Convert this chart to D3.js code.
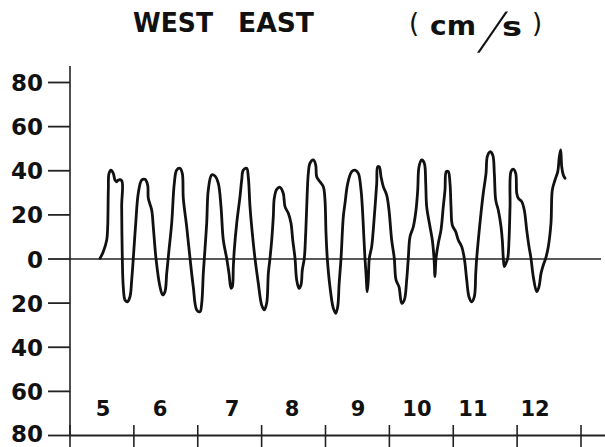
<!DOCTYPE html>
<html>
<head>
<meta charset="utf-8">
<script src="https://cdn.jsdelivr.net/npm/d3@7"></script>
<style>
  html, body { margin: 0; padding: 0; background: #fff; }
  svg { display: block; }
</style>
</head>
<body>
<svg id="chart" width="605" height="447"></svg>
<script>
// ---- data (time in days, west-east velocity in cm/s) ----
const timeDays = [
  5.470,5.521,5.575,5.590,5.600,5.611,5.642,5.678,5.704,5.731,5.756,5.809,5.809,5.819,5.834,5.861,5.897,5.939,5.966,5.991,
  6.029,6.069,6.123,6.174,6.216,6.226,6.279,6.304,6.346,6.409,6.451,6.487,6.514,6.550,6.592,6.633,6.670,6.722,6.758,6.774,
  6.827,6.879,6.930,6.984,7.035,7.062,7.087,7.103,7.140,7.165,7.218,7.270,7.322,7.364,7.400,7.453,7.489,7.521,7.541,7.557,
  7.572,7.610,7.661,7.688,7.713,7.766,7.791,7.818,7.854,7.896,7.948,8.001,8.042,8.079,8.105,8.131,8.158,8.183,8.198,8.236,
  8.288,8.339,8.366,8.418,8.460,8.487,8.523,8.549,8.585,8.616,8.637,8.668,8.690,8.706,8.731,8.757,8.809,8.847,8.862,8.914,
  8.966,8.992,9.008,9.028,9.070,9.122,9.160,9.191,9.214,9.243,9.279,9.305,9.348,9.410,9.462,9.514,9.556,9.576,9.603,9.618,
  9.634,9.654,9.670,9.686,9.723,9.764,9.802,9.817,9.842,9.869,9.905,9.958,9.994,10.036,10.077,10.104,10.151,10.193,10.234,10.271,
  10.296,10.323,10.375,10.417,10.444,10.464,10.506,10.547,10.569,10.584,10.636,10.672,10.699,10.714,10.730,10.766,10.808,10.844,10.871,10.891,
  10.922,10.949,10.965,10.985,11.038,11.079,11.132,11.173,11.211,11.246,11.289,11.330,11.352,11.367,11.392,11.434,11.470,11.513,11.533,11.575,
  11.618,11.643,11.665,11.705,11.748,11.768,11.784,11.800,11.826,11.853,11.873,11.889,11.904,11.940,11.978,11.994,12.019,12.072,12.112,12.150,
  12.186,12.217,12.253,12.306,12.342,12.374,12.410,12.447,12.488,12.530,12.551,12.593,12.636,12.661,12.682,12.698,12.723,12.750
];
const velocity = [
  0.3,3.3,8.6,14.6,31.3,38.8,40.3,38.8,35.8,35.0,35.8,35.5,23.7,0.3,-12.6,-18.6,-19.4,-17.1,-9.5,0.3,
  16.2,29.8,35.8,36.1,33.5,27.5,22.2,14.6,0.3,-12.6,-16.3,-14.8,-6.5,4.1,16.2,34.3,40.3,41.1,38.8,27.5,
  14.6,0.3,-12.6,-23.1,-23.9,-20.1,-6.5,0.3,16.2,31.3,38.1,37.6,34.3,23.7,8.6,0.3,-6.5,-13.3,-12.6,-3.5,
  4.1,16.2,28.2,35.8,40.3,41.1,37.3,23.7,11.7,0.3,-11.0,-20.9,-23.1,-20.1,-6.5,0.3,8.6,19.2,27.5,31.6,
  32.5,29.8,23.7,20.7,16.2,8.6,0.3,-9.5,-13.3,-11.8,-5.0,0.3,11.7,23.7,38.8,43.4,44.9,42.6,37.3,35.0,
  32.8,26.7,11.7,0.3,-12.6,-22.3,-24.6,-21.6,-11.0,0.3,19.2,25.2,34.3,39.6,40.3,38.8,31.3,23.7,8.6,0.3,
  -6.5,-14.8,-9.5,0.3,5.6,19.2,34.3,41.8,41.8,37.3,32.8,29.0,22.2,8.6,0.3,-9.5,-12.6,-20.1,-18.6,-9.5,
  0.3,10.1,14.6,22.2,31.3,41.8,44.9,43.4,34.3,23.7,14.6,8.6,0.3,-8.0,0.3,7.1,13.1,23.7,31.3,39.6,
  39.6,34.3,23.7,15.4,12.4,8.6,5.6,0.3,-9.5,-17.1,-19.4,-17.1,-6.5,0.3,8.6,20.7,29.8,38.8,46.4,48.6,
  47.1,38.8,26.7,22.2,14.6,8.6,0.3,-3.5,-1.9,0.3,8.6,23.7,39.6,40.7,38.8,29.8,27.5,26.0,22.2,13.1,
  5.6,0.3,-8.0,-14.8,-12.6,-6.5,-2.7,0.3,5.6,16.2,31.3,35.8,39.6,46.4,49.4,41.8,38.1,36.6
];
const yTickValues = [-80, -60, -40, -20, 0, 20, 40, 60, 80];
const xTickDays = [5, 6, 7, 8, 9, 10, 11, 12, 13];
const dayLabels = ["5", "6", "7", "8", "9", "10", "11", "12"];
const dayLabelPos = [5.517, 6.409, 7.536, 8.476, 9.509, 10.432, 11.309, 12.280];

// ---- drawing ----
const svg = d3.select("#chart");
const x = d3.scaleLinear().domain([5, 13]).range([70, 581]);
const y = d3.scaleLinear().domain([-80, 80]).range([435.5, 82.5]);
const FONT = "'DejaVu Sans', 'Liberation Sans', sans-serif";

// Title
const title = svg.append("g").attr("font-family", FONT).attr("fill", "#111");
title.append("text").attr("x", 133).attr("y", 32).attr("font-size", 26).attr("font-weight", "bold")
  .attr("textLength", 80).attr("lengthAdjust", "spacingAndGlyphs").text("WEST");
title.append("text").attr("x", 238).attr("y", 32).attr("font-size", 26).attr("font-weight", "bold")
  .attr("textLength", 76).attr("lengthAdjust", "spacingAndGlyphs").text("EAST");
title.append("text").attr("x", 409).attr("y", 32).attr("font-size", 26).text("(");
title.append("text").attr("x", 430).attr("y", 35).attr("font-size", 27).attr("font-weight", "bold")
  .attr("textLength", 46).attr("lengthAdjust", "spacingAndGlyphs").text("cm");
title.append("text").attr("transform", "translate(478,48) skewX(-21)")
  .attr("font-size", 50).attr("font-weight", 200).text("/");
title.append("text").attr("x", 502).attr("y", 36).attr("font-size", 27).attr("font-weight", "bold")
  .attr("textLength", 20).attr("lengthAdjust", "spacingAndGlyphs").text("s");
title.append("text").attr("x", 532).attr("y", 32).attr("font-size", 26).text(")");

// Y axis line
svg.append("line").attr("x1", 70).attr("x2", 70).attr("y1", 66).attr("y2", y(-80))
  .attr("stroke", "#222").attr("stroke-width", 1.6);

// Y ticks and labels
const yt = svg.append("g").selectAll("g").data(yTickValues).join("g");
yt.append("line").attr("x1", 48).attr("x2", 70)
  .attr("y1", d => y(d)).attr("y2", d => y(d))
  .attr("stroke", "#222").attr("stroke-width", 1.8);
yt.append("text").attr("x", 43).attr("y", d => y(d) + (d === -80 ? 6.5 : 8.5))
  .attr("text-anchor", "end").attr("font-family", FONT).attr("font-weight", "bold")
  .attr("font-size", 23).attr("fill", "#111")
  .text(d => Math.abs(d));

// Zero line
svg.append("line").attr("x1", 70).attr("x2", 601).attr("y1", y(0)).attr("y2", y(0))
  .attr("stroke", "#222").attr("stroke-width", 1.6);

// Bottom axis
svg.append("line").attr("x1", 70).attr("x2", 605).attr("y1", y(-80)).attr("y2", y(-80))
  .attr("stroke", "#222").attr("stroke-width", 1.8);
svg.append("g").selectAll("line").data(xTickDays).join("line")
  .attr("x1", d => x(d)).attr("x2", d => x(d))
  .attr("y1", 425).attr("y2", 447)
  .attr("stroke", "#222").attr("stroke-width", 1.6);

// Day labels
svg.append("g").selectAll("text").data(dayLabels).join("text")
  .attr("x", (d, i) => x(dayLabelPos[i])).attr("y", 416)
  .attr("text-anchor", "middle").attr("font-family", FONT).attr("font-weight", "bold")
  .attr("font-size", 21).attr("fill", "#111")
  .text(d => d);

// Velocity trace
const pts = timeDays.map((t, i) => [t, velocity[i]]);
const line = d3.line().x(d => x(d[0])).y(d => y(d[1])).curve(d3.curveCatmullRom.alpha(0.5));
svg.append("path").datum(pts).attr("d", line)
  .attr("fill", "none").attr("stroke", "#111").attr("stroke-width", 2.8)
  .attr("stroke-linejoin", "round").attr("stroke-linecap", "round");
</script>
</body>
</html>
